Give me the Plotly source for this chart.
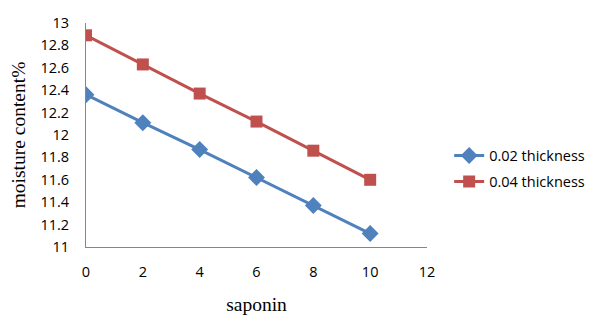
import plotly.graph_objects as go

saponin = [0, 2, 4, 6, 8, 10]
thick_002 = [12.36, 12.11, 11.87, 11.62, 11.37, 11.12]
thick_004 = [12.89, 12.63, 12.37, 12.12, 11.86, 11.60]
x_ticks = [0, 2, 4, 6, 8, 10, 12]
y_ticks = [11, 11.2, 11.4, 11.6, 11.8, 12, 12.2, 12.4, 12.6, 12.8, 13]

fig = go.Figure()
fig.add_trace(go.Scatter(x=saponin, y=thick_002, mode="lines+markers", name="0.02 thickness",
                         legendgroup="a",
                         line=dict(color="#4F81BD", width=3),
                         marker=dict(symbol="diamond", size=13, color="#4F81BD")))
fig.add_trace(go.Scatter(x=saponin, y=thick_004, mode="lines+markers", name="0.04 thickness",
                         legendgroup="b",
                         line=dict(color="#C0504D", width=3),
                         marker=dict(symbol="square", size=12, color="#C0504D")))

fig.update_layout(
    width=600, height=325,
    margin=dict(l=78, r=181, t=15, b=86, autoexpand=False),
    paper_bgcolor="white", plot_bgcolor="white",
    font=dict(family="Liberation Sans, Arial", size=14, color="#000"),
    showlegend=True,
    legend=dict(x=1.065, y=0.35, xanchor="left", yanchor="middle",
                font=dict(family="Open Sans, Liberation Sans", size=14.5, color="#000"),
                bgcolor="rgba(0,0,0,0)", tracegroupgap=4, itemwidth=30),
    xaxis=dict(range=[0, 12], tickvals=x_ticks, ticktext=[str(v) for v in x_ticks],
               showgrid=False, zeroline=False, showline=True, linecolor="#868686", linewidth=1,
               ticks="", ticklabelstandoff=12, automargin=False,
               tickfont=dict(family="Open Sans, Liberation Sans", size=14.5),
               title=dict(text="saponin", font=dict(family="Liberation Serif, Times New Roman", size=19.5),
                          standoff=16)),
    yaxis=dict(range=[11, 13], tickvals=y_ticks, ticktext=[f"{v:g}" for v in y_ticks],
               showgrid=False, zeroline=False, showline=True, linecolor="#868686", linewidth=1,
               ticks="", ticklabelstandoff=13, automargin=False,
               tickfont=dict(family="Open Sans, Liberation Sans", size=14.5),
               title=dict(text="moisture content%", font=dict(family="Liberation Serif, Times New Roman", size=19.5),
                          standoff=18)),
)

fig.write_html("out.html")
